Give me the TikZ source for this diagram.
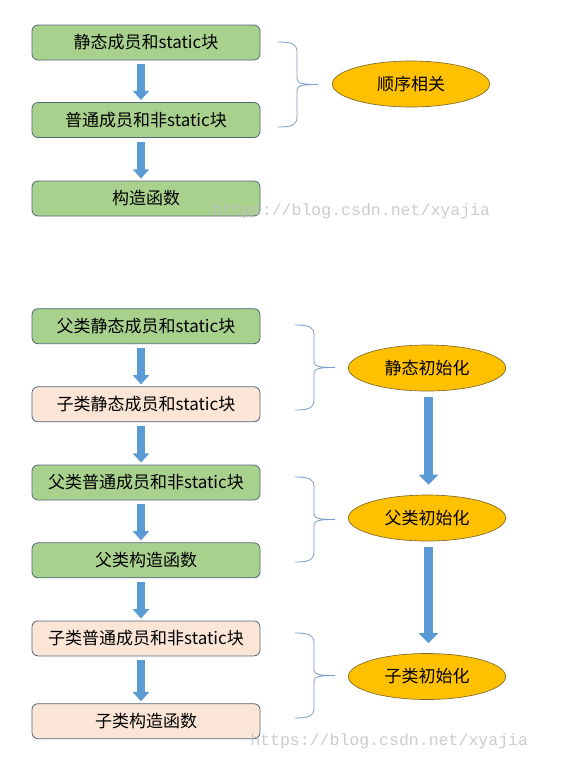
\documentclass[tikz,border=0pt]{standalone}
\usepackage{fontspec}
\newfontfamily\cjk{Noto Sans CJK SC}
\newfontfamily\wmfont{Liberation Mono}
\usetikzlibrary{calc,shapes.geometric,arrows.meta}
\definecolor{boxgreen}{HTML}{A9D18E}
\definecolor{boxpeach}{HTML}{FBE5D6}
\definecolor{boxline}{HTML}{52667A}
\definecolor{arrowblue}{HTML}{5B9BD5}
\definecolor{ovalfill}{HTML}{FFC000}
\definecolor{ovalline}{HTML}{7F6A2A}
\definecolor{braceline}{HTML}{7A9CC8}
\def\rightbrace[#1](#2:#3:#4){\draw[#1] (#2,#3) .. controls ({#2+14},{#3}) and ({#2+19},{#3+2}) .. ({#2+19},{#3+10}) -- ({#2+19},{(#3+#4)/2-6}) .. controls ({#2+19},{(#3+#4)/2-1}) and ({#2+24},{(#3+#4)/2}) .. ({#2+40},{(#3+#4)/2}) .. controls ({#2+24},{(#3+#4)/2}) and ({#2+19},{(#3+#4)/2+1}) .. ({#2+19},{(#3+#4)/2+6}) -- ({#2+19},{#4-10}) .. controls ({#2+19},{#4-2}) and ({#2+14},{#4}) .. (#2,#4);}

\begin{document}
\begin{tikzpicture}[x=0.75pt,y=-0.75pt,
	stepbox/.style={rectangle,rounded corners=4.5pt,draw=boxline,line width=0.6pt,minimum width=171pt,minimum height=26.25pt,inner sep=0pt,font=\cjk\fontsize{12.75pt}{15pt}\selectfont},
	parentbox/.style={stepbox,fill=boxgreen},
	childbox/.style={stepbox,fill=boxpeach},
	oval/.style={ellipse,draw=ovalline,line width=0.5pt,fill=ovalfill,minimum width=118pt,minimum height=34.5pt,inner sep=0pt,font=\cjk\fontsize{12.75pt}{15pt}\selectfont},
	flow/.style={draw=arrowblue,line width=6pt,-{Triangle[width=12pt,length=7pt]},shorten <=3pt,shorten >=1.5pt},
	bigflow/.style={draw=arrowblue,line width=7pt,-{Triangle[width=14.25pt,length=7.5pt]},shorten <=4.5pt,shorten >=7.5pt},
	watermark/.style={anchor=base west,inner sep=0pt,text=black!25,opacity=0.8,font=\wmfont\fontsize{12.4pt}{14pt}\selectfont}]
				%%%%% START %%%%%
				\def\bx{146}
				\def\ox{427}
				\def\ax{-5}
				
				\useasboundingbox (0,0) rectangle (567,758);
				
				% top group
				\node[parentbox] (s1) at (\bx,42.5) {静态成员和static块};
				\node[parentbox] (s2) at (\bx,120) {普通成员和非static块};
				\node[parentbox] (s3) at (\bx,198.5) {构造函数};
				
				\draw[flow] ($(s1.south)+(\ax,0)$) -- ($(s2.north)+(\ax,0)$);
				\draw[flow] ($(s2.south)+(\ax,0)$) -- ($(s3.north)+(\ax,0)$);
				
				\rightbrace[braceline,line width=0.6pt](278:42:127);
				\node[oval] (order) at (411,84) {顺序相关};
				
				% bottom group
				\node[parentbox] (p1) at (\bx,326.2) {父类静态成员和static块};
				\node[childbox] (c1) at (\bx,404.3) {子类静态成员和static块};
				\node[parentbox] (p2) at (\bx,482.5) {父类普通成员和非static块};
				\node[parentbox] (p3) at (\bx,560.3) {父类构造函数};
				\node[childbox] (c2) at (\bx,638.4) {子类普通成员和非static块};
				\node[childbox] (c3) at (\bx,721.2) {子类构造函数};
				
				\draw[flow] ($(p1.south)+(\ax,0)$) -- ($(c1.north)+(\ax,0)$);
				\draw[flow] ($(c1.south)+(\ax,0)$) -- ($(p2.north)+(\ax,0)$);
				\draw[flow] ($(p2.south)+(\ax,0)$) -- ($(p3.north)+(\ax,0)$);
				\draw[flow] ($(p3.south)+(\ax,0)$) -- ($(c2.north)+(\ax,0)$);
				\draw[flow] ($(c2.south)+(\ax,0)$) -- ($(c3.north)+(\ax,0)$);
				
				\rightbrace[braceline,line width=0.6pt](295:325:410);
				\rightbrace[braceline,line width=0.6pt](295:477:562);
				\rightbrace[braceline,line width=0.6pt](295:633:718);
				
				\node[oval] (static) at (\ox,368) {静态初始化};
				\node[oval] (parent) at (\ox,518) {父类初始化};
				\node[oval] (child) at (\ox,676.5) {子类初始化};
				
				\draw[bigflow] ($(static.south)+(1.5,0)$) -- ($(parent.north)+(1.5,0)$);
				\draw[bigflow] ($(parent.south)+(1.5,0)$) -- ($(child.north)+(1.5,0)$);
				
				% watermarks
				\node[watermark] (wm1) at (212,215) {https://blog.csdn.net/xyajia};
				\node[watermark] (wm2) at (250,745) {https://blog.csdn.net/xyajia};
				%%%%% END %%%%%
			\end{tikzpicture}
\end{document}
